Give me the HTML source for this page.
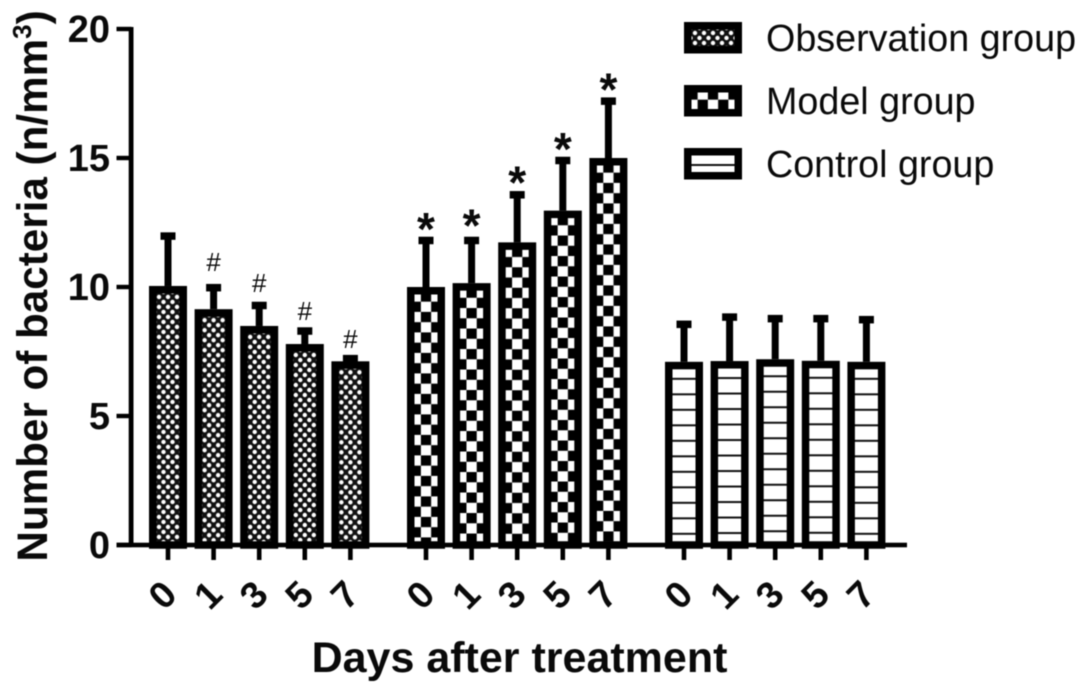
<!DOCTYPE html>
<html>
<head>
<meta charset="utf-8">
<title>Number of bacteria chart</title>
<style>
html,body{margin:0;padding:0;background:#fff;width:1087px;height:692px;overflow:hidden}
svg{display:block;font-family:"Liberation Sans",sans-serif;filter:blur(0.6px)}
text{fill:#0a0a0a}
.b{font-weight:700}
</style>
</head>
<body>
<svg id="chart" xmlns="http://www.w3.org/2000/svg" width="1087" height="692" viewBox="0 0 1087 692">
  <defs id="defs"></defs>
  <rect width="1087" height="692" fill="#fff"></rect>
  <text class="b" font-size="42.2" transform="translate(47,286) rotate(-90)" text-anchor="middle">Number of bacteria (n/mm<tspan font-size="26" dy="-16">3</tspan><tspan dy="16">)</tspan></text>
  <text class="b" font-size="43" x="519.5" y="672" text-anchor="middle">Days after treatment</text>
  <g id="marks"></g>
  <g id="axes"></g>
  <g id="legend"></g>
</svg>
<script>
const groups = ['Observation group', 'Model group', 'Control group'];
const days = ['0', '1', '3', '5', '7'];
const observationValues = [10.04, 9.14, 8.49, 7.79, 7.12];
const observationErrors = [2.04, 0.94, 0.9, 0.61, 0.21];
const modelValues = [10, 10.15, 11.73, 12.96, 15];
const modelErrors = [1.91, 1.76, 1.95, 2.05, 2.31];
const controlValues = [7.1, 7.13, 7.2, 7.14, 7.1];
const controlErrors = [1.56, 1.81, 1.68, 1.74, 1.74];
const observationMarks = ['', '#', '#', '#', '#'];
const modelMarks = ['*', '*', '*', '*', '*'];
const observationMarkLevels = [0, 10.97, 10.16, 9.07, 7.98];
const modelMarkLevels = [12.5, 12.64, 14.3, 15.6, 17.9];
const yTicks = [0, 5, 10, 15, 20];

const NS = 'http://www.w3.org/2000/svg';
const Y0 = 545, PX_PER_UNIT = 25.8, X0 = 168, STEP = 45.6, GROUP_STEP = 258, BAR_W = 38, SW = 7.5;
function yScale(v) { return Y0 - v * PX_PER_UNIT; }
function xScale(g, i) { return X0 + g * GROUP_STEP + i * STEP; }
function make(tag, attrs, parent) {
  const el = document.createElementNS(NS, tag);
  for (const k in attrs) el.setAttribute(k, attrs[k]);
  parent.appendChild(el);
  return el;
}
const defs = document.getElementById('defs');
const marks = document.getElementById('marks');
const axes = document.getElementById('axes');
const legend = document.getElementById('legend');
let pid = 0;

/* every hatch is anchored to the centre and top edge of the box it fills */
function pattern(kind, cx, top) {
  const id = 'p' + (pid++);
  if (kind === 0) {
    const p = make('pattern', {id: id, patternUnits: 'userSpaceOnUse', width: 9, height: 10, x: cx - 2.25, y: top + 8.5}, defs);
    make('rect', {width: 9, height: 10, fill: '#111'}, p);
    make('circle', {cx: 2.25, cy: 2.5, r: 2.2, fill: '#fff'}, p);
    make('circle', {cx: 6.75, cy: 7.5, r: 2.2, fill: '#fff'}, p);
  } else if (kind === 1) {
    const p = make('pattern', {id: id, patternUnits: 'userSpaceOnUse', width: 20.5, height: 20.5, x: cx - 5.125, y: top + 4.4}, defs);
    make('rect', {width: 20.5, height: 20.5, fill: '#fff'}, p);
    make('rect', {width: 10.25, height: 10.25, x: 0, y: 0, fill: '#000'}, p);
    make('rect', {width: 10.25, height: 10.25, x: 10.25, y: 10.25, fill: '#000'}, p);
  } else {
    const p = make('pattern', {id: id, patternUnits: 'userSpaceOnUse', width: 20, height: 15.5, x: 0, y: top + 16}, defs);
    make('rect', {width: 20, height: 15.5, fill: '#fff'}, p);
    make('rect', {width: 20, height: 2, y: 0, fill: '#111'}, p);
  }
  return 'url(#' + id + ')';
}

const seriesValues = [observationValues, modelValues, controlValues];
const seriesErrors = [observationErrors, modelErrors, controlErrors];
const seriesMarks = [observationMarks, modelMarks, null];
const seriesMarkLevels = [observationMarkLevels, modelMarkLevels, null];

seriesValues.forEach(function (vals, g) {
  vals.forEach(function (v, i) {
    const cx = xScale(g, i);
    const top = yScale(v);
    const errTop = yScale(v + seriesErrors[g][i]);

    const stem = make('rect', {x: cx - 3.5, y: errTop, width: 7, height: top - errTop, fill: '#000'}, marks);
    
    

    const cap = make('rect', {x: cx - 7.5, y: errTop - 1, width: 15, height: 7.5, fill: '#000'}, marks);
    
    

    const bar = make('rect', {
      x: cx - BAR_W / 2 + SW / 2, y: top + SW / 2,
      width: BAR_W - SW, height: Y0 - top - SW / 2,
      fill: pattern(g, cx, top), stroke: '#000', 'stroke-width': SW
    }, marks);
    
    

    const sig = seriesMarks[g] ? seriesMarks[g][i] : '';
    if (sig) {
      const level = yScale(seriesMarkLevels[g][i]);
      const t = make('text', {x: cx, 'text-anchor': 'middle'}, marks);
      if (sig === '#') {
        t.setAttribute('y', level + 9);
        t.setAttribute('font-size', 26);
      } else {
        t.setAttribute('y', level + 22.4);
        t.setAttribute('font-size', 46);
        t.setAttribute('font-weight', 700);
      }
      t.textContent = sig;
      
      
    }

    const tick = make('rect', {x: cx - 2.3, y: Y0, width: 4.6, height: 15, fill: '#000'}, axes);
    
    

    const lab = make('text', {
      class: 'b', 'font-size': 37.5, 'text-anchor': 'middle',
      transform: 'translate(' + (cx + 3.5) + ',' + 604 + ') rotate(-45)'
    }, axes);
    lab.textContent = days[i];
    
    
  });
});

const yLine = make('rect', {x: 128.7, y: yScale(20) - 2, width: 4.8, height: Y0 - yScale(20) + 4, fill: '#000'}, axes);



const xLine = make('rect', {x: 116.5, y: Y0 - 2.3, width: 790.5, height: 4.6, fill: '#000'}, axes);



yTicks.forEach(function (v) {
  const tk = make('rect', {x: 116.5, y: yScale(v) - 2.2, width: 15, height: 4.4, fill: '#000'}, axes);
  
  

  const lb = make('text', {class: 'b', 'font-size': 38, x: 110, y: yScale(v) + 13, 'text-anchor': 'end'}, axes);
  lb.textContent = v;
  
  
});

const legendSwatchY = [22, 85, 148];
const legendTextY = [51, 114, 177];
groups.forEach(function (name, g) {
  const sw = make('rect', {
    x: 687.75, y: legendSwatchY[g] + 3.75, width: 50.5, height: 24,
    fill: pattern(g, 713, legendSwatchY[g]),
    stroke: '#000', 'stroke-width': 7.5
  }, legend);
  
  

  const t = make('text', {x: 766, y: legendTextY[g], 'font-size': 37.7}, legend);
  t.textContent = name;
  
  
});
</script>
</body>
</html>
